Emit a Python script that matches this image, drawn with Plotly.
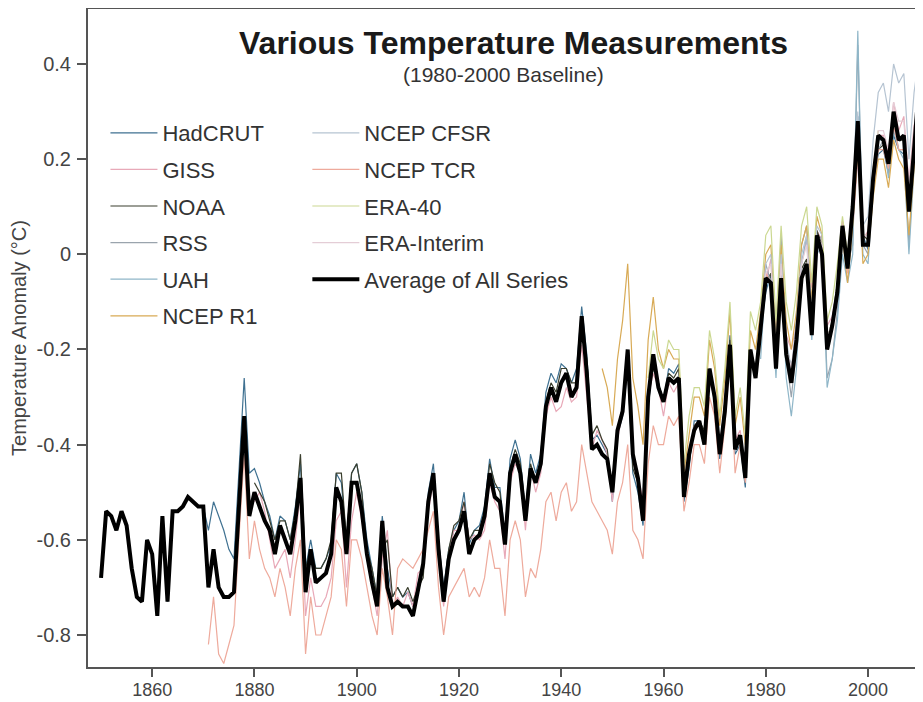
import plotly.graph_objects as go

# ---------------- data ----------------
hadcrut_start = 1850
hadcrut = [
    -0.68, -0.54, -0.55, -0.58, -0.54, -0.57, -0.66, -0.72, -0.73, -0.60,
    -0.63, -0.76, -0.55, -0.73, -0.54, -0.54, -0.53, -0.51, -0.52, -0.53,
    -0.53, -0.58, -0.52, -0.55, -0.58, -0.62, -0.64, -0.45, -0.26, -0.46,
    -0.45, -0.48, -0.52, -0.55, -0.60, -0.55, -0.56, -0.60, -0.53, -0.44,
    -0.66, -0.60, -0.66, -0.66, -0.64, -0.61, -0.46, -0.48, -0.60, -0.46,
    -0.44, -0.50, -0.60, -0.66, -0.72, -0.55, -0.66, -0.72, -0.70, -0.72,
    -0.71, -0.74, -0.69, -0.66, -0.50, -0.44, -0.60, -0.70, -0.62, -0.58,
    -0.56, -0.50, -0.61, -0.58, -0.57, -0.53, -0.43, -0.49, -0.49, -0.59,
    -0.43, -0.39, -0.43, -0.54, -0.42, -0.46, -0.42, -0.29, -0.25, -0.27,
    -0.23, -0.24, -0.27, -0.24, -0.11, -0.21, -0.39, -0.38, -0.40, -0.42,
    -0.52, -0.38, -0.34, -0.24, -0.46, -0.50, -0.57, -0.32, -0.22, -0.27,
    -0.31, -0.24, -0.25, -0.23, -0.52, -0.45, -0.35, -0.35, -0.39, -0.24,
    -0.30, -0.43, -0.31, -0.17, -0.42, -0.40, -0.49, -0.20, -0.26, -0.16,
    -0.08, -0.04, -0.21, -0.04, -0.20, -0.25, -0.17, -0.04, -0.03, -0.14,
    0.05, 0.01, -0.19, -0.14, -0.06, 0.05, -0.03, 0.12, 0.29, 0.04,
    0.01, 0.15, 0.21, 0.22, 0.17, 0.25, 0.22, 0.21, 0.09, 0.19,
    0.25, 0.14,
]

giss_start = 1880
giss = [
    -0.52, -0.50, -0.54, -0.60, -0.66, -0.64, -0.62, -0.68, -0.60, -0.50,
    -0.76, -0.68, -0.74, -0.74, -0.72, -0.68, -0.56, -0.54, -0.70, -0.56,
    -0.50, -0.56, -0.64, -0.70, -0.76, -0.64, -0.58, -0.74, -0.72, -0.74,
    -0.71, -0.74, -0.67, -0.66, -0.54, -0.48, -0.64, -0.74, -0.63, -0.58,
    -0.58, -0.52, -0.60, -0.59, -0.60, -0.58, -0.48, -0.52, -0.54, -0.64,
    -0.48, -0.44, -0.46, -0.58, -0.45, -0.50, -0.46, -0.34, -0.30, -0.33,
    -0.32, -0.28, -0.31, -0.30, -0.19, -0.30, -0.41, -0.37, -0.39, -0.42,
    -0.52, -0.39, -0.33, -0.24, -0.44, -0.46, -0.52, -0.30, -0.25, -0.28,
    -0.34, -0.27, -0.29, -0.27, -0.47, -0.43, -0.36, -0.35, -0.38, -0.27,
    -0.30, -0.40, -0.32, -0.19, -0.39, -0.37, -0.46, -0.22, -0.25, -0.16,
    -0.06, -0.01, -0.19, -0.01, -0.17, -0.20, -0.15, -0.02, 0.03, -0.07,
    0.05, 0.03, -0.15, -0.13, -0.07, 0.07, 0.00, 0.05, 0.20, 0.03,
    0.05, 0.17, 0.25, 0.25, 0.21, 0.32, 0.26, 0.29, 0.15, 0.27,
    0.32, 0.22,
]

noaa_start = 1880
noaa = [
    -0.48, -0.50, -0.52, -0.56, -0.60, -0.56, -0.56, -0.60, -0.54, -0.42,
    -0.66, -0.62, -0.66, -0.66, -0.64, -0.60, -0.46, -0.46, -0.60, -0.46,
    -0.44, -0.50, -0.62, -0.66, -0.72, -0.62, -0.60, -0.72, -0.70, -0.72,
    -0.70, -0.73, -0.70, -0.68, -0.52, -0.46, -0.60, -0.71, -0.62, -0.57,
    -0.56, -0.52, -0.60, -0.58, -0.58, -0.54, -0.44, -0.48, -0.50, -0.60,
    -0.45, -0.41, -0.44, -0.54, -0.44, -0.48, -0.44, -0.31, -0.27, -0.29,
    -0.24, -0.24, -0.27, -0.27, -0.14, -0.22, -0.38, -0.36, -0.39, -0.41,
    -0.50, -0.37, -0.32, -0.24, -0.45, -0.48, -0.55, -0.30, -0.24, -0.27,
    -0.31, -0.25, -0.26, -0.24, -0.50, -0.44, -0.36, -0.35, -0.37, -0.25,
    -0.29, -0.41, -0.31, -0.18, -0.40, -0.38, -0.46, -0.20, -0.24, -0.16,
    -0.06, -0.04, -0.19, -0.04, -0.19, -0.24, -0.17, -0.03, -0.01, -0.13,
    0.05, 0.02, -0.18, -0.14, -0.07, 0.05, -0.02, 0.12, 0.24, 0.04,
    0.03, 0.17, 0.22, 0.23, 0.19, 0.28, 0.24, 0.24, 0.13, 0.24,
    0.31, 0.20,
]

rss_start = 1979
rss = [
    -0.16, -0.02, -0.06, -0.22, 0.04, -0.22, -0.30, -0.20, 0.02, 0.06,
    -0.14, 0.02, 0.04, -0.26, -0.22, -0.12, 0.04, -0.02, 0.02, 0.44,
    0.02, 0.00, 0.15, 0.22, 0.24, 0.17, 0.28, 0.22, 0.22, 0.02,
    0.20, 0.36, 0.12,
]

uah_start = 1979
uah = [
    -0.22, -0.04, -0.08, -0.26, 0.00, -0.26, -0.34, -0.24, -0.02, 0.04,
    -0.18, 0.00, 0.02, -0.28, -0.22, -0.14, 0.00, -0.06, 0.00, 0.47,
    0.00, -0.02, 0.14, 0.24, 0.24, 0.16, 0.26, 0.22, 0.20, 0.00,
    0.18, 0.38, 0.10,
]

ncep_r1_start = 1948
ncep_r1 = [
    -0.24, -0.28, -0.36, -0.22, -0.14, -0.02, -0.26, -0.32, -0.40, -0.18,
    -0.09, -0.20, -0.24, -0.20, -0.22, -0.22, -0.46, -0.38, -0.30, -0.30,
    -0.34, -0.18, -0.24, -0.36, -0.26, -0.12, -0.36, -0.30, -0.40, -0.16,
    -0.20, -0.12, 0.00, 0.02, -0.18, 0.02, -0.14, -0.20, -0.12, 0.02,
    0.06, -0.10, 0.08, 0.04, -0.18, -0.14, -0.06, 0.04, -0.06, 0.06,
    0.22, -0.02, 0.00, 0.12, 0.20, 0.20, 0.14, 0.24, 0.20, 0.18,
    0.04, 0.18, 0.28, 0.15,
]

ncep_cfsr_start = 1979
ncep_cfsr = [
    -0.14, -0.02, 0.00, -0.20, 0.00, -0.18, -0.24, -0.14, 0.00, 0.04,
    -0.12, 0.06, 0.04, -0.18, -0.14, -0.06, 0.06, -0.02, 0.10, 0.30,
    0.06, 0.08, 0.24, 0.34, 0.36, 0.30, 0.40, 0.36, 0.38, 0.20,
    0.34, 0.42,
]

ncep_tcr_start = 1871
ncep_tcr = [
    -0.82, -0.72, -0.84, -0.86, -0.82, -0.78, -0.59, -0.42, -0.64,
    -0.56, -0.62, -0.66, -0.68, -0.72, -0.66, -0.70, -0.76, -0.66, -0.60,
    -0.84, -0.72, -0.80, -0.80, -0.76, -0.72, -0.60, -0.62, -0.74, -0.60,
    -0.60, -0.64, -0.70, -0.76, -0.80, -0.66, -0.72, -0.80, -0.66, -0.64,
    -0.65, -0.66, -0.64, -0.62, -0.58, -0.54, -0.70, -0.80, -0.72, -0.70,
    -0.68, -0.66, -0.72, -0.70, -0.72, -0.68, -0.60, -0.66, -0.66, -0.76,
    -0.60, -0.56, -0.60, -0.72, -0.66, -0.68, -0.62, -0.52, -0.50, -0.56,
    -0.50, -0.48, -0.54, -0.52, -0.40, -0.46, -0.52, -0.54, -0.56, -0.58,
    -0.63, -0.52, -0.48, -0.40, -0.58, -0.60, -0.64, -0.44, -0.36, -0.40,
    -0.40, -0.34, -0.36, -0.34, -0.54, -0.48, -0.40, -0.40, -0.44, -0.30,
    -0.34, -0.46, -0.36, -0.22, -0.46, -0.40, -0.48, -0.22, -0.26, -0.18,
    -0.04, -0.06, -0.24, -0.06, -0.22, -0.26, -0.18, -0.06, -0.02, -0.16,
    0.04, 0.00, -0.20, -0.16, -0.09, 0.05, -0.04, 0.08, 0.24, 0.02,
    0.02, 0.14, 0.22, 0.22, 0.18, 0.27, 0.22, 0.22,
]

era40_start = 1957
era40 = [
    -0.26, -0.16, -0.22, -0.24, -0.18, -0.20, -0.20, -0.44, -0.34, -0.28,
    -0.28, -0.32, -0.16, -0.22, -0.34, -0.24, -0.10, -0.34, -0.28, -0.38,
    -0.12, -0.16, -0.10, 0.04, 0.06, -0.14, 0.06, -0.10, -0.16, -0.08,
    0.06, 0.10, -0.06, 0.10, 0.06, -0.14, -0.10, -0.02, 0.08, 0.00,
    0.12, 0.26, 0.04, 0.04, 0.18, 0.26,
]

era_interim_start = 1979
era_interim = [
    -0.12, -0.04, -0.02, -0.22, -0.02, -0.20, -0.24, -0.16, -0.02, 0.02,
    -0.14, 0.04, 0.02, -0.18, -0.14, -0.08, 0.06, -0.02, 0.08, 0.26,
    0.04, 0.04, 0.18, 0.26, 0.26, 0.22, 0.32, 0.28, 0.28, 0.14,
    0.26, 0.34, 0.20,
]

average_start = 1850
average = [
    -0.68, -0.54, -0.55, -0.58, -0.54, -0.57, -0.66, -0.72, -0.73, -0.60,
    -0.63, -0.76, -0.55, -0.73, -0.54, -0.54, -0.53, -0.51, -0.52, -0.53,
    -0.53, -0.70, -0.62, -0.70, -0.72, -0.72, -0.71, -0.52, -0.34, -0.55,
    -0.50, -0.53, -0.56, -0.58, -0.63, -0.57, -0.60, -0.63, -0.56, -0.47,
    -0.71, -0.62, -0.69, -0.68, -0.67, -0.63, -0.49, -0.52, -0.63, -0.48,
    -0.48, -0.54, -0.63, -0.69, -0.74, -0.56, -0.70, -0.74, -0.73, -0.74,
    -0.74, -0.76, -0.70, -0.65, -0.52, -0.46, -0.62, -0.73, -0.64, -0.60,
    -0.58, -0.54, -0.63, -0.60, -0.59, -0.55, -0.46, -0.51, -0.52, -0.61,
    -0.46, -0.42, -0.46, -0.56, -0.45, -0.48, -0.44, -0.32, -0.28, -0.31,
    -0.27, -0.25, -0.30, -0.28, -0.13, -0.25, -0.41, -0.40, -0.42, -0.43,
    -0.50, -0.37, -0.33, -0.20, -0.42, -0.47, -0.56, -0.30, -0.21, -0.28,
    -0.31, -0.26, -0.27, -0.26, -0.51, -0.42, -0.37, -0.35, -0.40, -0.24,
    -0.30, -0.42, -0.33, -0.19, -0.41, -0.38, -0.47, -0.20, -0.26, -0.16,
    -0.05, -0.06, -0.24, -0.05, -0.21, -0.27, -0.18, -0.05, -0.02, -0.17,
    0.04, 0.00, -0.20, -0.15, -0.08, 0.06, -0.03, 0.10, 0.28, 0.02,
    0.02, 0.16, 0.25, 0.24, 0.19, 0.30, 0.24, 0.25, 0.09, 0.22,
    0.36, 0.30,
]

series_names = ["HadCRUT", "GISS", "NOAA", "RSS", "UAH", "NCEP R1",
                "NCEP CFSR", "NCEP TCR", "ERA-40", "ERA-Interim"]
series_values = [hadcrut, giss, noaa, rss, uah, ncep_r1,
                 ncep_cfsr, ncep_tcr, era40, era_interim]
series_starts = [hadcrut_start, giss_start, noaa_start, rss_start, uah_start,
                 ncep_r1_start, ncep_cfsr_start, ncep_tcr_start, era40_start,
                 era_interim_start]
series_colors = ["#3f7191", "#e8a9b8", "#3b3f2e", "#9aa4ad", "#8fb6c8",
                 "#d8aa55", "#b6c4d2", "#eeaa9c", "#cbd891", "#e4cdd6"]

x_ticks = [1860, 1880, 1900, 1920, 1940, 1960, 1980, 2000]
y_ticks = [-0.8, -0.6, -0.4, -0.2, 0, 0.2, 0.4]
y_tick_text = ["-0.8", "-0.6", "-0.4", "-0.2", "0", "0.2", "0.4"]

FONT = "Liberation Sans, Arial, sans-serif"

fig = go.Figure()
for i, (name, vals, start, col) in enumerate(zip(series_names, series_values,
                                                  series_starts, series_colors)):
    fig.add_trace(go.Scatter(
        x=list(range(start, start + len(vals))), y=vals, mode="lines",
        name=name, line=dict(color=col, width=1.2),
        legend="legend" if i < 6 else "legend2",
        legendgroup=name,
    ))

fig.add_trace(go.Scatter(
    x=list(range(average_start, average_start + len(average))), y=average,
    mode="lines", name="Average of All Series",
    line=dict(color="#000000", width=4),
    legend="legend2", legendgroup="avg",
))

legend_common = dict(
    font=dict(family=FONT, size=22, color="#333333"),
    bgcolor="rgba(0,0,0,0)", borderwidth=0,
    itemwidth=47, tracegroupgap=5,
    xanchor="left", yanchor="top",
)

# The page body adds an 8 px margin, so the figure is sized to fill the
# remaining 915 x 694 px of the window.
fig.update_layout(
    width=915, height=694,
    margin=dict(l=79.5, r=0, t=1, b=35),
    paper_bgcolor="white", plot_bgcolor="white",
    showlegend=True,
    legend=dict(x=0.0209, y=0.8435, **legend_common),
    legend2=dict(x=0.2627, y=0.8435, **legend_common),
    xaxis=dict(
        range=[1847.45, 2010.75], tickvals=x_ticks, ticks="outside",
        ticklen=8, tickwidth=1.5, tickcolor="#555555",
        showline=True, linecolor="#555555", linewidth=2, mirror=True,
        showgrid=False, zeroline=False, automargin=False,
        tickfont=dict(family=FONT, size=18, color="#444444"),
        ticklabelstandoff=-3,
    ),
    yaxis=dict(
        range=[-0.8673, 0.5156], tickvals=y_ticks, ticktext=y_tick_text,
        ticks="outside", ticklen=9, tickwidth=1.5, tickcolor="#555555",
        showline=True, linecolor="#555555", linewidth=2,
        showgrid=False, zeroline=False, automargin=False,
        tickfont=dict(family=FONT, size=20, color="#444444"),
        ticklabelstandoff=2,
        title=dict(text="Temperature Anomaly (°C)",
                   font=dict(family=FONT, size=20, color="#444444"),
                   standoff=14),
    ),
    annotations=[
        dict(text="<b>Various Temperature Measurements</b>", xref="paper",
             yref="paper", x=0.5093, y=0.949, xanchor="center",
             yanchor="middle", showarrow=False,
             font=dict(family=FONT, size=32, color="#1a1a1a")),
        dict(text="(1980-2000 Baseline)", xref="paper", yref="paper",
             x=0.4979, y=0.8997, xanchor="center", yanchor="middle",
             showarrow=False,
             font=dict(family=FONT, size=21, color="#333333")),
    ],
)

fig.write_html("out.html")
